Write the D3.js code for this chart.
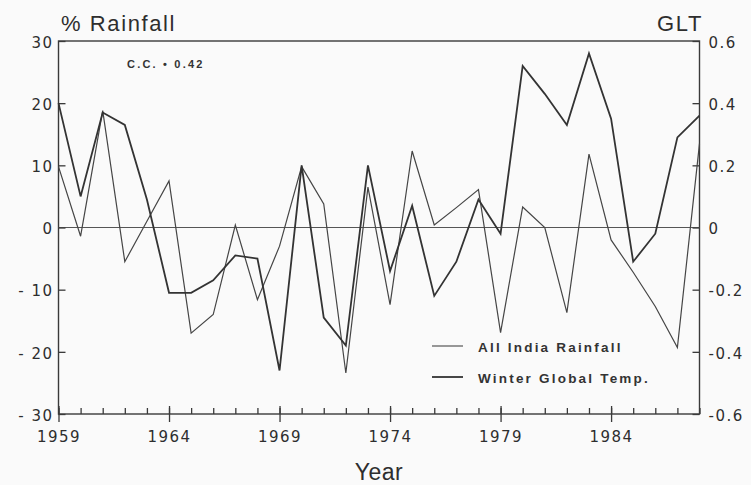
<!DOCTYPE html>
<html>
<head>
<meta charset="utf-8">
<script src="https://cdn.jsdelivr.net/npm/d3@7"></script>
<style>
  html, body { margin: 0; padding: 0; background: #fafafa; }
  svg { display: block; }
</style>
</head>
<body>
<script>
// ---- data ----
const years = [1959, 1960, 1961, 1962, 1963, 1964, 1965, 1966, 1967, 1968,
               1969, 1970, 1971, 1972, 1973, 1974, 1975, 1976, 1977, 1978,
               1979, 1980, 1981, 1982, 1983, 1984, 1985, 1986, 1987, 1988];
const rainfall = [9.8, -1.4, 18.8, -5.5, 1.0, 7.5, -17.0, -14.0, 0.4, -11.6,
                  -3.0, 9.8, 3.8, -23.4, 6.5, -12.4, 12.3, 0.4, 3.2, 6.1,
                  -16.9, 3.3, 0.0, -13.7, 11.8, -2.0, -7.2, -12.7, -19.3, 13.5];
const winterTemp = [0.40, 0.10, 0.37, 0.33, 0.09, -0.21, -0.21, -0.17, -0.09, -0.10,
                    -0.46, 0.20, -0.29, -0.38, 0.20, -0.14, 0.07, -0.22, -0.11, 0.09,
                    -0.02, 0.52, 0.43, 0.33, 0.56, 0.35, -0.11, -0.02, 0.29, 0.36];
const leftTicks = [30, 20, 10, 0, -10, -20, -30];
const leftTickLabels = ["30", "20", "10", "0", "- 10", "- 20", "- 30"];
const rightTicks = [0.6, 0.4, 0.2, 0, -0.2, -0.4, -0.6];
const rightTickLabels = ["0.6", "0.4", "0.2", "0", "-0.2", "-0.4", "-0.6"];
const majorYears = [1959, 1964, 1969, 1974, 1979, 1984];
const seriesNames = ["All India Rainfall", "Winter Global Temp."];

// ---- layout ----
const W = 751, H = 485;
const L = 58.5, R = 699.5, T = 41, B = 414;
const ink = "#3a3a3a";
const numFont = "'DejaVu Sans', sans-serif";
const titleFont = "'Liberation Sans', Arial, sans-serif";

const svg = d3.select("body").append("svg").attr("width", W).attr("height", H);

const x = d3.scaleLinear().domain([1959, 1988]).range([L, R]);
const yL = d3.scaleLinear().domain([-30, 30]).range([B, T]);
const yR = d3.scaleLinear().domain([-0.6, 0.6]).range([B, T]);

// frame
svg.append("rect").attr("x", L).attr("y", T).attr("width", R - L).attr("height", B - T)
  .attr("fill", "none").attr("stroke", ink).attr("stroke-width", 1.4);

// zero line
svg.append("line").attr("x1", L).attr("x2", R).attr("y1", yL(0)).attr("y2", yL(0))
  .attr("stroke", "#555").attr("stroke-width", 1.2);

function styleAxis(g) {
  g.select(".domain").remove();
  g.selectAll(".tick line").attr("stroke", ink).attr("stroke-width", 1.3);
  g.selectAll(".tick text").attr("fill", "#2e2e2e").attr("font-family", numFont)
    .attr("font-size", 15).attr("letter-spacing", 1.5);
}

// left axis
const gL = svg.append("g").attr("transform", `translate(${L},0)`)
  .call(d3.axisLeft(yL).tickValues(leftTicks).tickSize(-7).tickPadding(5)
    .tickFormat((d, i) => leftTickLabels[i]));
styleAxis(gL);
gL.selectAll(".tick text").attr("dy", "0.42em");

// right axis
const gR = svg.append("g").attr("transform", `translate(${R},0)`)
  .call(d3.axisRight(yR).tickValues(rightTicks).tickSize(-7).tickPadding(9)
    .tickFormat((d, i) => rightTickLabels[i]));
styleAxis(gR);
gR.selectAll(".tick text").attr("dy", "0.42em");

// bottom minor ticks (every year, inward)
const gXm = svg.append("g").attr("transform", `translate(0,${B})`)
  .call(d3.axisBottom(x).tickValues(years).tickSize(-6).tickFormat(""));
styleAxis(gXm);

// bottom major ticks (cross the axis) + labels
const gXM = svg.append("g").attr("transform", `translate(0,${B})`)
  .call(d3.axisBottom(x).tickValues(majorYears).tickSize(8).tickPadding(9)
    .tickFormat(d3.format("d")));
styleAxis(gXM);
gXM.selectAll(".tick line").attr("y1", -8);

// series lines
const lineRain = d3.line().x((d, i) => x(years[i])).y(d => yL(d));
const lineTemp = d3.line().x((d, i) => x(years[i])).y(d => yR(d));

svg.append("path").datum(rainfall).attr("d", lineRain)
  .attr("fill", "none").attr("stroke", "#454545").attr("stroke-width", 1.2)
  .attr("stroke-linejoin", "miter");
svg.append("path").datum(winterTemp).attr("d", lineTemp)
  .attr("fill", "none").attr("stroke", "#333").attr("stroke-width", 1.8)
  .attr("stroke-linejoin", "miter");

// titles
svg.append("text").attr("x", 61).attr("y", 31).text("% Rainfall")
  .attr("font-family", titleFont).attr("font-size", 22).attr("letter-spacing", 1.6)
  .attr("fill", "#2e2e2e");
svg.append("text").attr("x", 703).attr("y", 31).attr("text-anchor", "end").text("GLT")
  .attr("font-family", titleFont).attr("font-size", 22).attr("letter-spacing", 1.6)
  .attr("fill", "#2e2e2e");
svg.append("text").attr("x", (L + R) / 2).attr("y", 480).attr("text-anchor", "middle").text("Year")
  .attr("font-family", titleFont).attr("font-size", 23).attr("letter-spacing", 0.5)
  .attr("fill", "#2e2e2e");

// correlation note
svg.append("text").attr("x", 127).attr("y", 68).text("C.C. \u2022 0.42")
  .attr("font-family", titleFont).attr("font-size", 11).attr("font-weight", "bold")
  .attr("letter-spacing", 2.2).attr("fill", "#333");

// legend
const legY = [346, 377];
const legW = [1.2, 1.8];
seriesNames.forEach((name, i) => {
  svg.append("line").attr("x1", 432).attr("x2", 463).attr("y1", legY[i]).attr("y2", legY[i])
    .attr("stroke", i === 0 ? "#555" : "#333").attr("stroke-width", legW[i]);
  svg.append("text").attr("x", 478).attr("y", legY[i] + 6).text(name)
    .attr("font-family", titleFont).attr("font-size", 13.5).attr("font-weight", "bold")
    .attr("letter-spacing", 2.2).attr("fill", "#333");
});
</script>
</body>
</html>
